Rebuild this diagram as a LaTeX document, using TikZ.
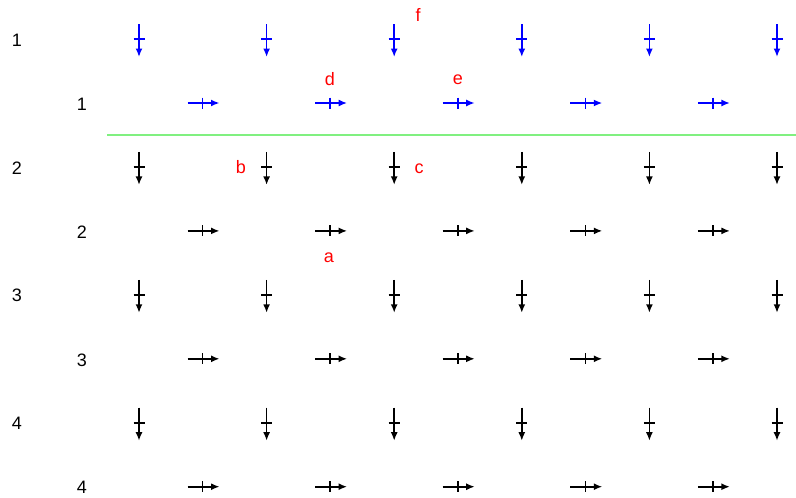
\documentclass[tikz,border=0pt]{standalone}
\usepackage{fontspec}
\setmainfont{Liberation Sans}
\usetikzlibrary{arrows.meta}
\definecolor{rulegreen}{RGB}{128,240,128}
\begin{document}
\begin{tikzpicture}[x=1pt,y=-1pt,
  flow/.style={line width=1.6pt,-{Latex[length=8.5pt,width=7pt]}},
  crossbar/.style={line width=1.6pt},
  lbl/.style={font=\fontsize{18}{20}\selectfont,inner sep=0pt,anchor=center},
  tag/.style={lbl,text=red},
  pics/downflow/.style={code={
    \coordinate (-s) at (0,-15);
    \coordinate (-e) at (0,18);
    \coordinate (-l) at (-5.5,0);
    \coordinate (-r) at (5.5,0);
    \draw[flow] (-s) -- (-e);
    \draw[crossbar] (-l) -- (-r);}},
  pics/rightflow/.style={code={
    \coordinate (-s) at (-15,0);
    \coordinate (-e) at (17,0);
    \coordinate (-t) at (0,-5.5);
    \coordinate (-b) at (0,5.5);
    \draw[flow] (-s) -- (-e);
    \draw[crossbar] (-t) -- (-b);}}
]
\useasboundingbox (0,0) rectangle (796,498);

% separator between the first and second block
\coordinate (sepL) at (107,135);
\coordinate (sepR) at (796,135);
\draw[rulegreen,line width=1.3pt] (sepL) -- (sepR);

% row numbers
\foreach \j in {0,...,3}{
  \pgfmathtruncatemacro{\n}{\j+1}
  \node[lbl] (vrow\n) at (17,{40+127.9*\j}) {\n};
  \node[lbl] (hrow\n) at (82,{104+127.9*\j}) {\n};
}

% grid of arrows, first row pair in blue
\foreach \j in {0,...,3}{
  \ifnum\j=0 \def\col{blue}\else\def\col{black}\fi
  \foreach \i in {0,...,5}{
    \pic[color=\col] (v\i\j) at ({139+127.6*\i},{39+127.9*\j}) {downflow};
  }
  \foreach \i in {0,...,4}{
    \pic[color=\col] (h\i\j) at ({202.5+127.6*\i},{103+127.9*\j}) {rightflow};
  }
}

% letter tags
\node[tag] (tf) at (418,15) {f};
\node[tag] (td) at (330,79) {d};
\node[tag] (te) at (458,80) {e};
\node[tag] (tb) at (241,167) {b};
\node[tag] (tc) at (419,169) {c};
\node[tag] (ta) at (329,258) {a};
\end{tikzpicture}
\end{document}
